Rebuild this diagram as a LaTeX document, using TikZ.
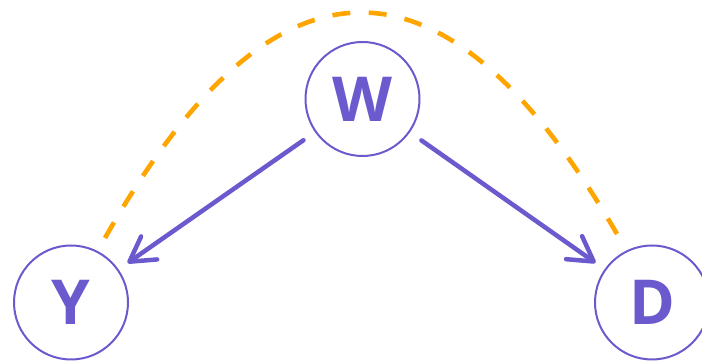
\documentclass[tikz,border=0pt]{standalone}
\usepackage{fontspec}
\setsansfont{Open Sans}
\usetikzlibrary{arrows.meta}
\definecolor{vpurple}{HTML}{6A5ACD}
\definecolor{vorange}{HTML}{FFA500}
\begin{document}
\begin{tikzpicture}[x=1pt,y=1pt,
  var/.style={circle, draw=vpurple, line width=2pt, minimum size=114pt, inner sep=0pt, outer sep=0pt, text=vpurple, font=\sffamily\bfseries\fontsize{62}{62}\selectfont},
  cause/.style={draw=vpurple, line width=4.5pt, line cap=round, -{Straight Barb[length=24pt,width=28pt,round]}, shorten <=15pt, shorten >=12pt},
  conf/.style={draw=vorange, line width=4.6pt, dash pattern=on 18pt off 18.38pt}]
\useasboundingbox (0,0) rectangle (702,363);
\node[var] (W) at (362.5,264) {W};
\node[var] (Y) at (71,60.5) {Y};
\node[var] (D) at (652,60.5) {D};
\draw[cause] (W) -- (Y);
\draw[cause] (W) -- (D);
\coordinate (cY) at (105,125);
\coordinate (cD) at (617,129);
\draw[conf] (cY) .. controls (274.33,424.33) and (445,425.67) .. (cD);
\end{tikzpicture}
\end{document}
